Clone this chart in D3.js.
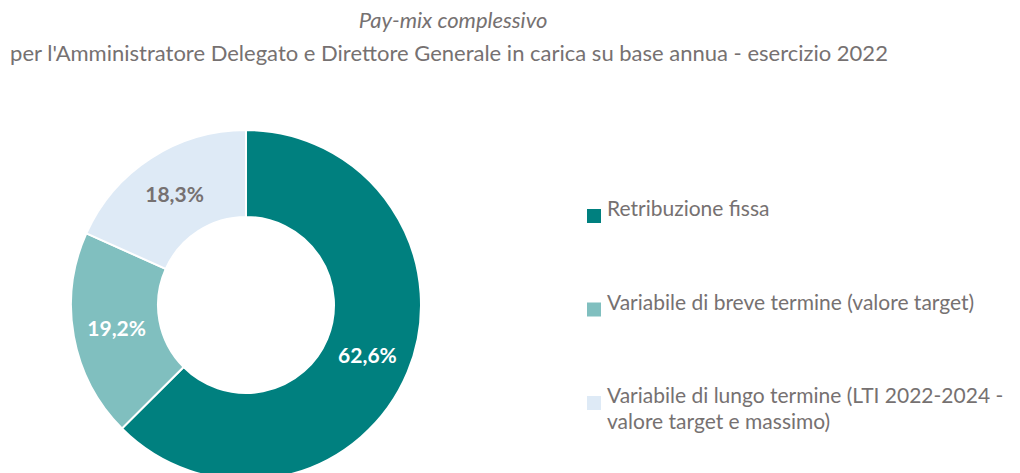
<!DOCTYPE html>
<html lang="it">
<head>
<meta charset="utf-8">
<title>Pay-mix complessivo</title>
<script src="https://d3js.org/d3.v7.min.js"></script>
<style>
  body { margin: 0; background: #fff; }
  text { font-family: Lato, "Open Sans", sans-serif; }
</style>
</head>
<body>
<svg id="chart" width="1020" height="473"></svg>
<script>
// dati
const categorie = ["Retribuzione fissa", "Variabile di breve termine (valore target)", "Variabile di lungo termine (LTI 2022-2024 - valore target e massimo)"];
const valori = [62.6, 19.2, 18.3];
const etichette = ["62,6%", "19,2%", "18,3%"];
const legendaRighe = [["Retribuzione fissa"], ["Variabile di breve termine (valore target)"], ["Variabile di lungo termine (LTI 2022-2024 -", "valore target e massimo)"]];
const colori = ["#00807f", "#80bfbf", "#deeaf6"];
const coloriTesto = ["#ffffff", "#ffffff", "#767171"];

let svg = d3.select("#chart");
const grigio = "#767171";

svg.append("text")
  .attr("x", 453).attr("y", 28)
  .attr("text-anchor", "middle")
  .style("font-style", "italic")
  .style("font-size", "22px")
  .style("fill", grigio)
  .text("Pay-mix complessivo");

svg.append("text")
  .attr("x", 449).attr("y", 61)
  .attr("text-anchor", "middle")
  .style("font-size", "22px")
  .style("fill", grigio)
  .text("per l'Amministratore Delegato e Direttore Generale in carica su base annua - esercizio 2022");

let pie = d3.pie().sort(null).value(d => d);
let arc = d3.arc().innerRadius(88).outerRadius(175);

let g = svg.append("g").attr("transform", "translate(246,305)");

g.selectAll("path")
  .data(pie(valori))
  .join("path")
  .attr("d", arc)
  .attr("fill", (d, i) => colori[i])
  .attr("stroke", "#fff")
  .attr("stroke-width", 2);

g.selectAll(".lab")
  .data(pie(valori))
  .join("text")
  .attr("class", "lab")
  .attr("transform", d => "translate(" + arc.centroid(d) + ")")
  .attr("text-anchor", "middle")
  .attr("dy", "0.35em")
  .style("font-weight", "bold")
  .style("font-size", "21px")
  .style("fill", (d, i) => coloriTesto[i])
  .text((d, i) => etichette[i]);

// legenda
let ly = d3.scalePoint().domain(categorie).range([216, 403]);
let leg = svg.selectAll(".leg")
  .data(categorie)
  .join("g")
  .attr("class", "leg")
  .attr("transform", d => "translate(587," + ly(d) + ")");

leg.append("rect")
  .attr("x", 0).attr("y", -7)
  .attr("width", 14).attr("height", 14)
  .attr("fill", (d, i) => colori[i]);

leg.append("text")
  .attr("x", 20).attr("y", 0)
  .attr("dy", "0.35em")
  .style("font-size", "21px")
  .style("fill", grigio)
  .selectAll("tspan")
  .data((d, i) => legendaRighe[i])
  .join("tspan")
  .attr("x", 20)
  .attr("dy", (d, j) => j === 0 ? 0 : 26)
  .text(d => d);
</script>
</body>
</html>
